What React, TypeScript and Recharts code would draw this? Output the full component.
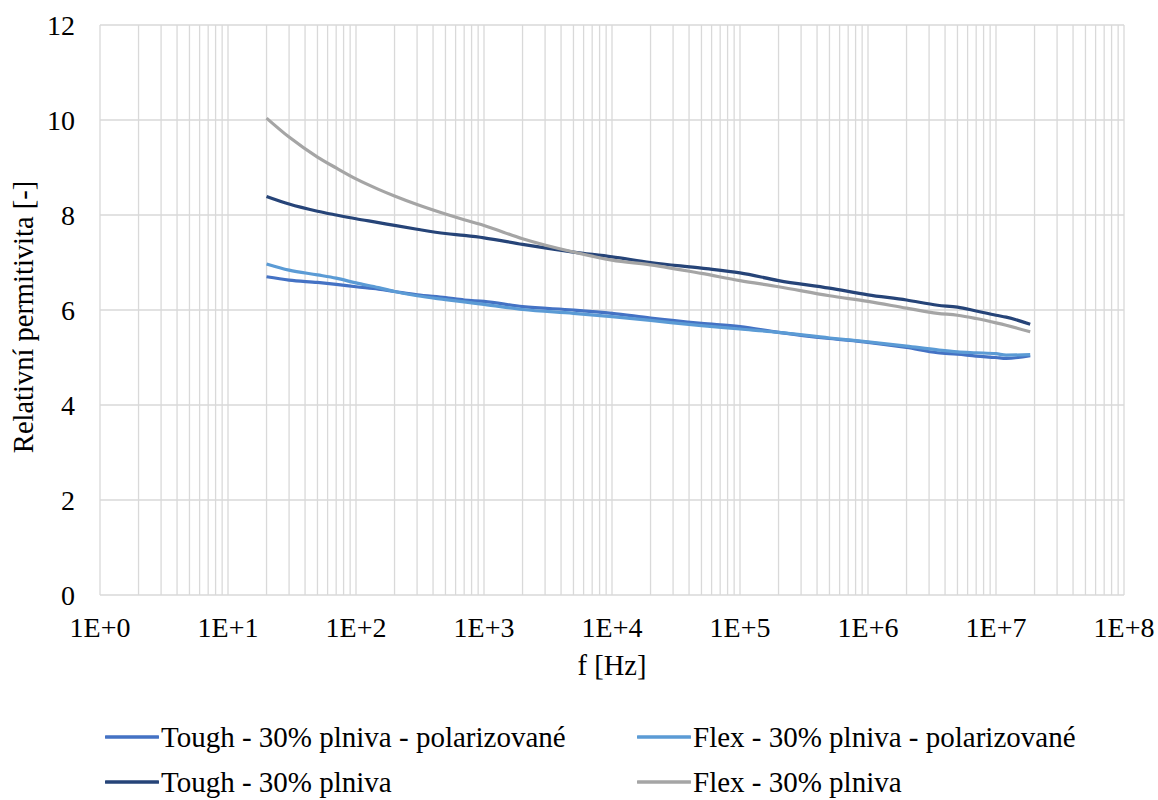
import React from 'react';
import { LineChart, Line, XAxis, YAxis, CartesianGrid, Legend } from 'recharts';

const frequencies = [20, 30, 50, 70, 100, 150, 200, 300, 500, 700, 1e3, 2e3, 5e3, 1e4, 2e4, 5e4, 1e5, 2e5, 5e5, 1e6, 2e6, 3.5e6, 5e6, 7e6, 1e7, 1.2e7, 1.85e7];

const toughPolarized = [6.70, 6.63, 6.58, 6.54, 6.49, 6.44, 6.39, 6.32, 6.26, 6.21, 6.18, 6.07, 6.00, 5.93, 5.83, 5.72, 5.65, 5.53, 5.40, 5.32, 5.21, 5.10, 5.07, 5.03, 5.00, 4.98, 5.04];
const flexPolarized = [6.97, 6.84, 6.74, 6.67, 6.57, 6.47, 6.39, 6.30, 6.22, 6.17, 6.12, 6.01, 5.93, 5.86, 5.78, 5.67, 5.60, 5.53, 5.41, 5.33, 5.24, 5.16, 5.12, 5.10, 5.08, 5.05, 5.06];
const tough = [8.39, 8.23, 8.08, 8.00, 7.92, 7.84, 7.78, 7.70, 7.61, 7.57, 7.52, 7.38, 7.22, 7.12, 7.00, 6.88, 6.78, 6.62, 6.46, 6.32, 6.21, 6.10, 6.06, 5.98, 5.89, 5.85, 5.70];
const flex = [10.04, 9.64, 9.22, 8.99, 8.76, 8.54, 8.40, 8.22, 8.02, 7.90, 7.78, 7.50, 7.22, 7.05, 6.95, 6.77, 6.62, 6.49, 6.30, 6.18, 6.04, 5.93, 5.89, 5.82, 5.73, 5.68, 5.54];

const seriesNames = [
  'Tough - 30% plniva - polarizované',
  'Flex - 30% plniva - polarizované',
  'Tough - 30% plniva',
  'Flex - 30% plniva',
];
const seriesColors = ['#4472C4', '#5B9BD5', '#264478', '#A5A5A5'];
const seriesKeys = ['toughPol', 'flexPol', 'tough', 'flex'];

const decadeTicks = [1, 10, 100, 1e3, 1e4, 1e5, 1e6, 1e7, 1e8];
const decadeLabels = ['1E+0', '1E+1', '1E+2', '1E+3', '1E+4', '1E+5', '1E+6', '1E+7', '1E+8'];
const minorMultipliers = [1, 2, 3, 4, 5, 6, 7, 8, 9];
const yTicks = [0, 2, 4, 6, 8, 10, 12];

const xTicks: number[] = [];
decadeTicks.forEach((d, i) => {
  if (i === decadeTicks.length - 1) {
    xTicks.push(d);
  } else {
    minorMultipliers.forEach((m) => xTicks.push(d * m));
  }
});

const data = frequencies.map((f, i) => ({
  f,
  toughPol: toughPolarized[i],
  flexPol: flexPolarized[i],
  tough: tough[i],
  flex: flex[i],
}));

const FONT = 'Liberation Serif, Times New Roman, serif';

const formatX = (v: number) => {
  const idx = decadeTicks.findIndex((d) => Math.abs(d - v) / d < 1e-9);
  return idx >= 0 ? decadeLabels[idx] : '';
};

const LegendContent = () => {
  const cols = [105, 637];
  return (
    <div style={{ position: 'relative', width: 1158, height: 80, fontFamily: FONT, fontSize: 29, color: '#000' }}>
      {seriesNames.map((name, i) => {
        const col = i % 2;
        const row = Math.floor(i / 2);
        return (
          <div
            key={name}
            style={{
              position: 'absolute',
              left: cols[col],
              top: row * 45,
              height: 36,
              lineHeight: '36px',
              display: 'flex',
              alignItems: 'center',
              whiteSpace: 'nowrap',
              fontFamily: FONT,
            }}
          >
            <svg width={54} height={6} style={{ marginRight: 2 }}>
              <line x1={1} y1={3} x2={53} y2={3} stroke={seriesColors[i]} strokeWidth={3.5} strokeLinecap="round" />
            </svg>
            <span style={{ fontFamily: FONT }}>{name}</span>
          </div>
        );
      })}
    </div>
  );
};

const YLabel = (props: any) => {
  const vb = props.viewBox || { x: 0, y: 0, width: 0, height: 0 };
  const cx = vb.x + 23;
  const cy = vb.y + vb.height / 2 + 7;
  return (
    <text
      x={cx}
      y={cy}
      transform={`rotate(-90, ${cx}, ${cy})`}
      textAnchor="middle"
      dominantBaseline="central"
      fontFamily={FONT}
      fontSize={28.5}
      fill="#000"
    >
      Relativní permitivita [-]
    </text>
  );
};

const tickStyle = { fontFamily: FONT, fontSize: 28, fill: '#000' };

export default function App() {
  return (
    <div style={{ position: 'absolute', left: 0, top: 0, width: 1158, height: 800, background: '#fff', fontFamily: FONT }}>
      <LineChart width={1158} height={800} data={data} margin={{ top: 25, right: 34, left: 0, bottom: 115 }}>
        <CartesianGrid stroke="#D9D9D9" strokeWidth={1.3} />
        <XAxis
          dataKey="f"
          type="number"
          scale="log"
          domain={[1, 1e8]}
          ticks={xTicks}
          interval={0}
          tickFormatter={formatX}
          axisLine={false}
          tickLine={false}
          tickSize={0}
          tickMargin={22}
          height={90}
          tick={tickStyle}
          label={{ value: 'f [Hz]', position: 'insideBottom', offset: 10, fontFamily: FONT, fontSize: 28.5, fill: '#000' }}
          allowDataOverflow
        />
        <YAxis
          type="number"
          domain={[0, 12]}
          ticks={yTicks}
          interval={0}
          axisLine={false}
          tickLine={false}
          tickSize={0}
          tickMargin={25}
          width={100}
          tick={tickStyle}
          label={<YLabel />}
        />
        {seriesKeys.map((k, i) => (
          <Line
            key={k}
            dataKey={k}
            name={seriesNames[i]}
            type="monotone"
            stroke={seriesColors[i]}
            strokeWidth={3.2}
            dot={false}
            activeDot={false}
            isAnimationActive={false}
          />
        ))}
        <Legend
          layout="horizontal"
          verticalAlign="middle"
          align="center"
          wrapperStyle={{ left: 0, top: 719, width: 1158 }}
          content={<LegendContent />}
        />
      </LineChart>
    </div>
  );
}
